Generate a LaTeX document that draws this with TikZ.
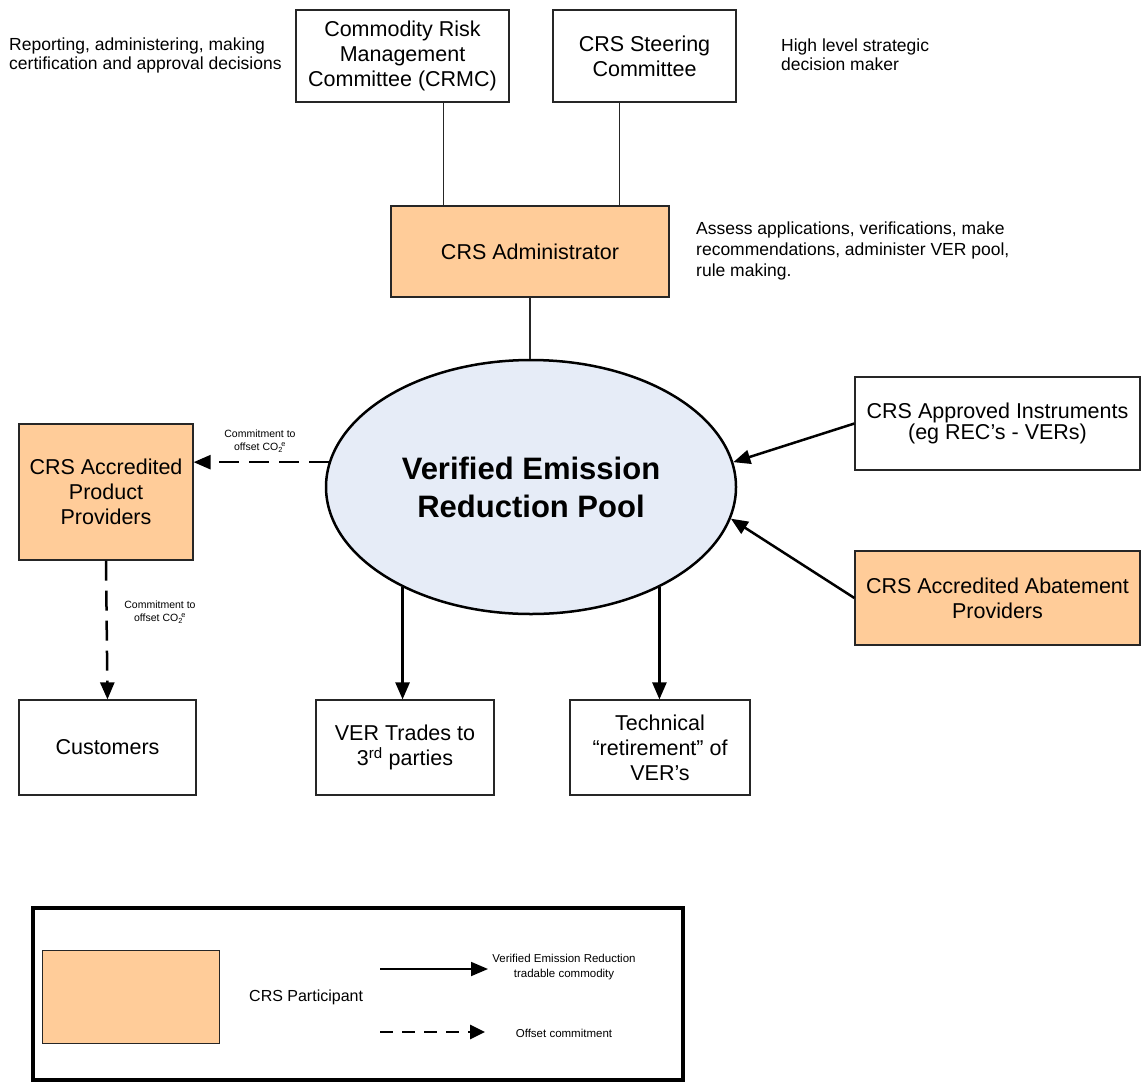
\documentclass[tikz,border=0pt]{standalone}
\usepackage{fontspec}
\setmainfont{Liberation Sans}
\usetikzlibrary{arrows.meta,shapes.geometric}
\definecolor{crsorange}{HTML}{FFCC99}
\definecolor{poolblue}{HTML}{E6ECF7}
\tikzset{
  box/.style={draw=black!85, line width=1.2pt, inner sep=2pt, align=center,
    font=\fontsize{21.5}{25}\selectfont},
  part/.style={box, fill=crsorange},
  note/.style={align=left, inner sep=0pt, font=\fontsize{17.5}{19}\selectfont},
  small/.style={align=center, inner sep=0pt, font=\fontsize{10.5}{13}\selectfont},
  plain/.style={draw=black!85, line width=1.2pt},
  flow/.style={line width=2.5pt, -{Triangle[length=17pt,width=14pt]}},
  offset/.style={line width=2.5pt, dash pattern=on 20pt off 10pt, -{Triangle[length=17pt,width=14pt]}},
}
\begin{document}
\begin{tikzpicture}[x=1pt,y=-1pt]
\useasboundingbox (0,0) rectangle (1142,1082);

% top nodes
\node[box, minimum width=213, minimum height=92] (crmc) at (402.5,56) {Commodity Risk\\Management\\Committee (CRMC)};
\node[box, minimum width=183, minimum height=92] (steer) at (644.5,56) {CRS Steering\\Committee};
\node[note, anchor=west] (crmcnote) at (9,55) {Reporting, administering, making\\certification and approval decisions};
\node[note, anchor=west] (steernote) at (781,55) {High level strategic\\decision maker};

\node[part, minimum width=278, minimum height=91] (admin) at (530,251.5) {CRS Administrator};
\node[note, anchor=west, font=\fontsize{17.5}{21}\selectfont] (adminnote) at (696,251) {Assess applications, verifications, make\\recommendations, administer VER pool,\\rule making.};

% pool
\node[ellipse, draw=black, line width=2.5pt, fill=poolblue, minimum width=410, minimum height=254,
  inner sep=0pt, align=center, font=\fontsize{31}{38}\bfseries\selectfont] (pool) at (531,487) {Verified Emission\\Reduction Pool};

% right nodes
\node[box, minimum width=285, minimum height=93, font=\fontsize{21.5}{20}\selectfont] (appr) at (997.5,423.5) {CRS Approved Instruments\\(eg REC’s - VERs)};
\node[part, minimum width=285, minimum height=94] (abate) at (997.5,598) {CRS Accredited Abatement\\Providers};

% left nodes
\node[part, minimum width=174, minimum height=136] (prod) at (106,492) {CRS Accredited\\Product\\Providers};
\node[box, minimum width=177, minimum height=95] (cust) at (107.5,747.5) {Customers};

% bottom nodes
\node[box, minimum width=178, minimum height=95] (vtrade) at (405,747.5) {VER Trades to\\3\textsuperscript{rd} parties};
\node[box, minimum width=180, minimum height=95] (tech) at (660,747.5) {Technical\\“retirement” of\\VER’s};

% connectors
\draw[plain] ([xshift=41pt]crmc.south) -- ([xshift=41pt]crmc.south |- admin.north);
\draw[plain] ([xshift=-25pt]steer.south) -- ([xshift=-25pt]steer.south |- admin.north);
\draw[plain] (admin.south) -- (admin.south |- pool.north);

\draw[flow] (appr.west) -- (pool.7);
\draw[flow] (abate.west) -- (pool.-9);
\draw[flow] (pool.218.9) -- (pool.218.9 |- vtrade.north);
\draw[flow] (pool.-38.1) -- (pool.-38.1 |- tech.north);

\draw[offset] (pool.173.5) -- (pool.173.5 -| prod.east);
\draw[offset] (prod.south) -- (cust.north);

\node[small] (lbl1) at (260,441) {Commitment to\\offset CO\textsubscript{2}\kern-0.15em\textsuperscript{e}};
\node[small] (lbl2) at (160,612) {Commitment to\\offset CO\textsubscript{2}\kern-0.15em\textsuperscript{e}};

% legend
\node[draw=black, line width=4pt, minimum width=650, minimum height=172, inner sep=0pt] (legend) at (358,994) {};
\node[draw=black!85, line width=1pt, fill=crsorange, minimum width=177, minimum height=93, inner sep=0pt] (legrect) at (130.5,996.5) {};
\node[anchor=west, inner sep=0pt, font=\fontsize{16}{19}\selectfont] (legpart) at (249,997) {CRS Participant};
\coordinate (s1) at (380,969);
\coordinate (s2) at (488,969);
\coordinate (d1) at (380,1032);
\coordinate (d2) at (485,1032);
\draw[line width=1.8pt, -{Triangle[length=17pt,width=14pt]}] (s1) -- (s2);
\draw[line width=2.8pt, dash pattern=on 13pt off 9pt, -{Triangle[length=15pt,width=14pt]}] (d1) -- (d2);
\node[small, font=\fontsize{11.5}{15}\selectfont] (legtrade) at (564,967) {Verified Emission Reduction\\tradable commodity};
\node[small, font=\fontsize{11.5}{15}\selectfont] (legoff) at (564,1033) {Offset commitment};
\end{tikzpicture}
\end{document}
